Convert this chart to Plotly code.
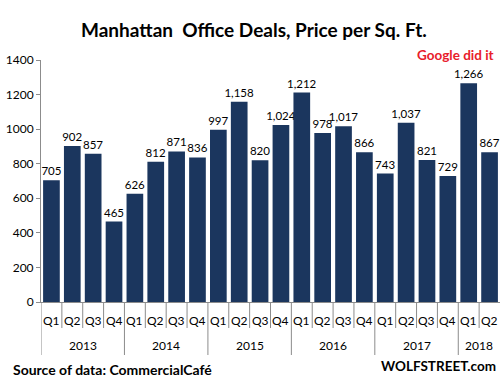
import plotly.graph_objects as go

years = ["2013"]*4 + ["2014"]*4 + ["2015"]*4 + ["2016"]*4 + ["2017"]*4 + ["2018"]*2
quarters = ["Q1", "Q2", "Q3", "Q4"]*5 + ["Q1", "Q2"]
price = [705, 902, 857, 465, 626, 812, 871, 836, 997, 1158, 820, 1024,
         1212, 978, 1017, 866, 743, 1037, 821, 729, 1266, 867]
ytick_vals = [0, 200, 400, 600, 800, 1000, 1200, 1400]

BAR = "#1B365E"
GRID = "#8C8C8C"
FONT = "Lato, 'Open Sans', sans-serif"

cats = [f"{y} {q}" for y, q in zip(years, quarters)]
n = len(cats)

fig = go.Figure(go.Bar(
    x=cats, y=price,
    marker=dict(color=BAR, line=dict(width=0)),
    texttemplate="%{y:,}", textposition="outside", constraintext="none",
    textfont=dict(family=FONT, size=11.5, color="#000000"),
    cliponaxis=False,
))

fig.update_layout(
    width=502, height=383,
    margin=dict(l=41, r=2, t=60, b=81),
    paper_bgcolor="white", plot_bgcolor="white",
    bargap=0.2,
    showlegend=False,
    font=dict(family=FONT, size=12, color="#000000"),
)
fig.update_yaxes(
    range=[0, 1400], tickvals=ytick_vals, showgrid=False, zeroline=False,
    showline=True, linecolor=GRID, linewidth=1,
    ticks="outside", ticklen=4, tickcolor=GRID,
    tickfont=dict(family=FONT, size=12, color="#000000"),
)
fig.update_xaxes(
    type="category", showgrid=False, showline=True, range=[-0.5, n - 0.5],
    linecolor=GRID, linewidth=1, showticklabels=False, ticks="",
)

# quarter separators and labels
for i in range(n):
    is_year_start = i == 0 or years[i] != years[i - 1]
    fig.add_shape(type="line", xref="x", yref="paper", ysizemode="pixel", yanchor=0,
                  x0=i - 0.5, x1=i - 0.5, y0=0, y1=-53 if is_year_start else -26,
                  line=dict(color=GRID, width=1))
    fig.add_annotation(text=quarters[i], xref="x", yref="paper", x=i, y=0, yshift=-18,
                       yanchor="middle", showarrow=False,
                       font=dict(family=FONT, size=12, color="#000000"))

# year labels
uniq_years = list(dict.fromkeys(years))
for yr in uniq_years:
    idx = [i for i, v in enumerate(years) if v == yr]
    fig.add_annotation(text=yr, xref="x", yref="paper", x=sum(idx) / len(idx), y=0,
                       yshift=-43, yanchor="middle", showarrow=False,
                       font=dict(family=FONT, size=12, color="#000000"))

fig.add_annotation(text="<b>Manhattan  Office Deals, Price per Sq. Ft.</b>",
                   xref="paper", yref="paper", x=0.465, y=1.0, yshift=31, yanchor="middle",
                   showarrow=False, font=dict(family=FONT, size=19, color="#000000"))
fig.add_annotation(text="<b>Google did it</b>", xref="paper", yref="paper",
                   x=1.0, xshift=-4, y=1.0, xanchor="right", yanchor="middle", yshift=5,
                   showarrow=False, font=dict(family=FONT, size=13.5, color="#E8202A"))
fig.add_annotation(text="<b>Source of data: CommercialCafé</b>", xref="paper", yref="paper",
                   x=0, xshift=-30, y=0, yshift=-67, xanchor="left", yanchor="middle",
                   showarrow=False, font=dict(family=FONT, size=14, color="#000000"))
fig.add_annotation(text="<b>WOLFSTREET.com</b>", xref="paper", yref="paper",
                   x=1.0, xshift=-2, y=0, yshift=-64, xanchor="right", yanchor="middle",
                   showarrow=False, font=dict(family=FONT, size=13.5, color="#000000"))

fig.write_html("out.html", config={"displayModeBar": False},
               post_script="document.body.style.margin='0';")
